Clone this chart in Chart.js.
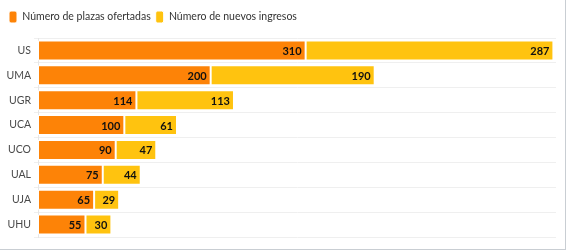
<!DOCTYPE html>
<html>
<head>
<meta charset="utf-8">
<script src="https://cdn.jsdelivr.net/npm/chart.js@4"></script>
<style>
  html, body { margin: 0; padding: 0; background: #fff; }
  #wrap { width: 565px; height: 249px; border-right: 1px solid #c9ced3; border-bottom: 1px solid #c9ced3; position: relative; }
</style>
</head>
<body>
<div id="wrap"><canvas id="chart"></canvas></div>
<script>
const universidades = ['US', 'UMA', 'UGR', 'UCA', 'UCO', 'UAL', 'UJA', 'UHU'];
const plazasOfertadas = [310, 200, 114, 100, 90, 75, 65, 55];
const nuevosIngresos = [287, 190, 113, 61, 47, 44, 29, 30];

const colors = {
    orange: '#FD8307',
    yellow: '#FFC30F',
    text: '#4a4a4a',
    grid: '#efefef'
};

// values drawn at the inner end of each bar segment
const barLabels = {
    id: 'barLabels',
    afterDatasetsDraw(chart) {
        const ctx = chart.ctx;
        ctx.save();
        ctx.font = 'bold 11px Lato';
        ctx.fillStyle = '#111';
        ctx.textAlign = 'right';
        ctx.textBaseline = 'middle';
        chart.data.datasets.forEach((ds, i) => {
            chart.getDatasetMeta(i).data.forEach((bar, j) => {
                ctx.fillText(ds.data[j], bar.x - 4, bar.y + 1);
            });
        });
        ctx.restore();
    }
};

// leave a bit more room under the legend
const legendRoom = {
    id: 'legendRoom',
    beforeInit(chart) {
        const fit = chart.legend.fit;
        chart.legend.fit = function() {
            fit.bind(chart.legend)();
            this.height = 32;
        };
    }
};

new Chart(document.getElementById('chart'), {
    type: 'bar',
    data: {
        labels: universidades,
        datasets: [
            {
                label: 'Número de plazas ofertadas',
                data: plazasOfertadas,
                backgroundColor: colors.orange,
                borderColor: '#fff',
                borderWidth: 1,
                borderSkipped: false
            },
            {
                label: 'Número de nuevos ingresos',
                data: nuevosIngresos,
                backgroundColor: colors.yellow,
                borderColor: '#fff',
                borderWidth: 1,
                borderSkipped: false
            }
        ]
    },
    options: {
        indexAxis: 'y',
        responsive: true,
        maintainAspectRatio: false,
        animation: false,
        layout: { padding: { left: 4, right: 9, top: 6, bottom: 12 } },
        datasets: { bar: { categoryPercentage: 0.8, barPercentage: 1 } },
        plugins: {
            legend: {
                position: 'top',
                align: 'start',
                labels: {
                    boxWidth: 8,
                    boxHeight: 12,
                    padding: 5,
                    color: '#333',
                    useBorderRadius: true,
                    borderRadius: 2,
                    font: { family: 'Lato', size: 10.5 }
                }
            },
            tooltip: { enabled: false }
        },
        scales: {
            x: {
                stacked: true,
                min: 0,
                max: 600,
                display: false
            },
            y: {
                stacked: true,
                afterFit(scale) { scale.width = 34; },
                grid: { color: colors.grid, tickLength: 4, drawTicks: true },
                border: { color: '#e6e6e6' },
                ticks: { color: colors.text, padding: 3, font: { family: 'Lato', size: 10.5 } }
            }
        }
    },
    plugins: [barLabels, legendRoom]
});
</script>
</body>
</html>
